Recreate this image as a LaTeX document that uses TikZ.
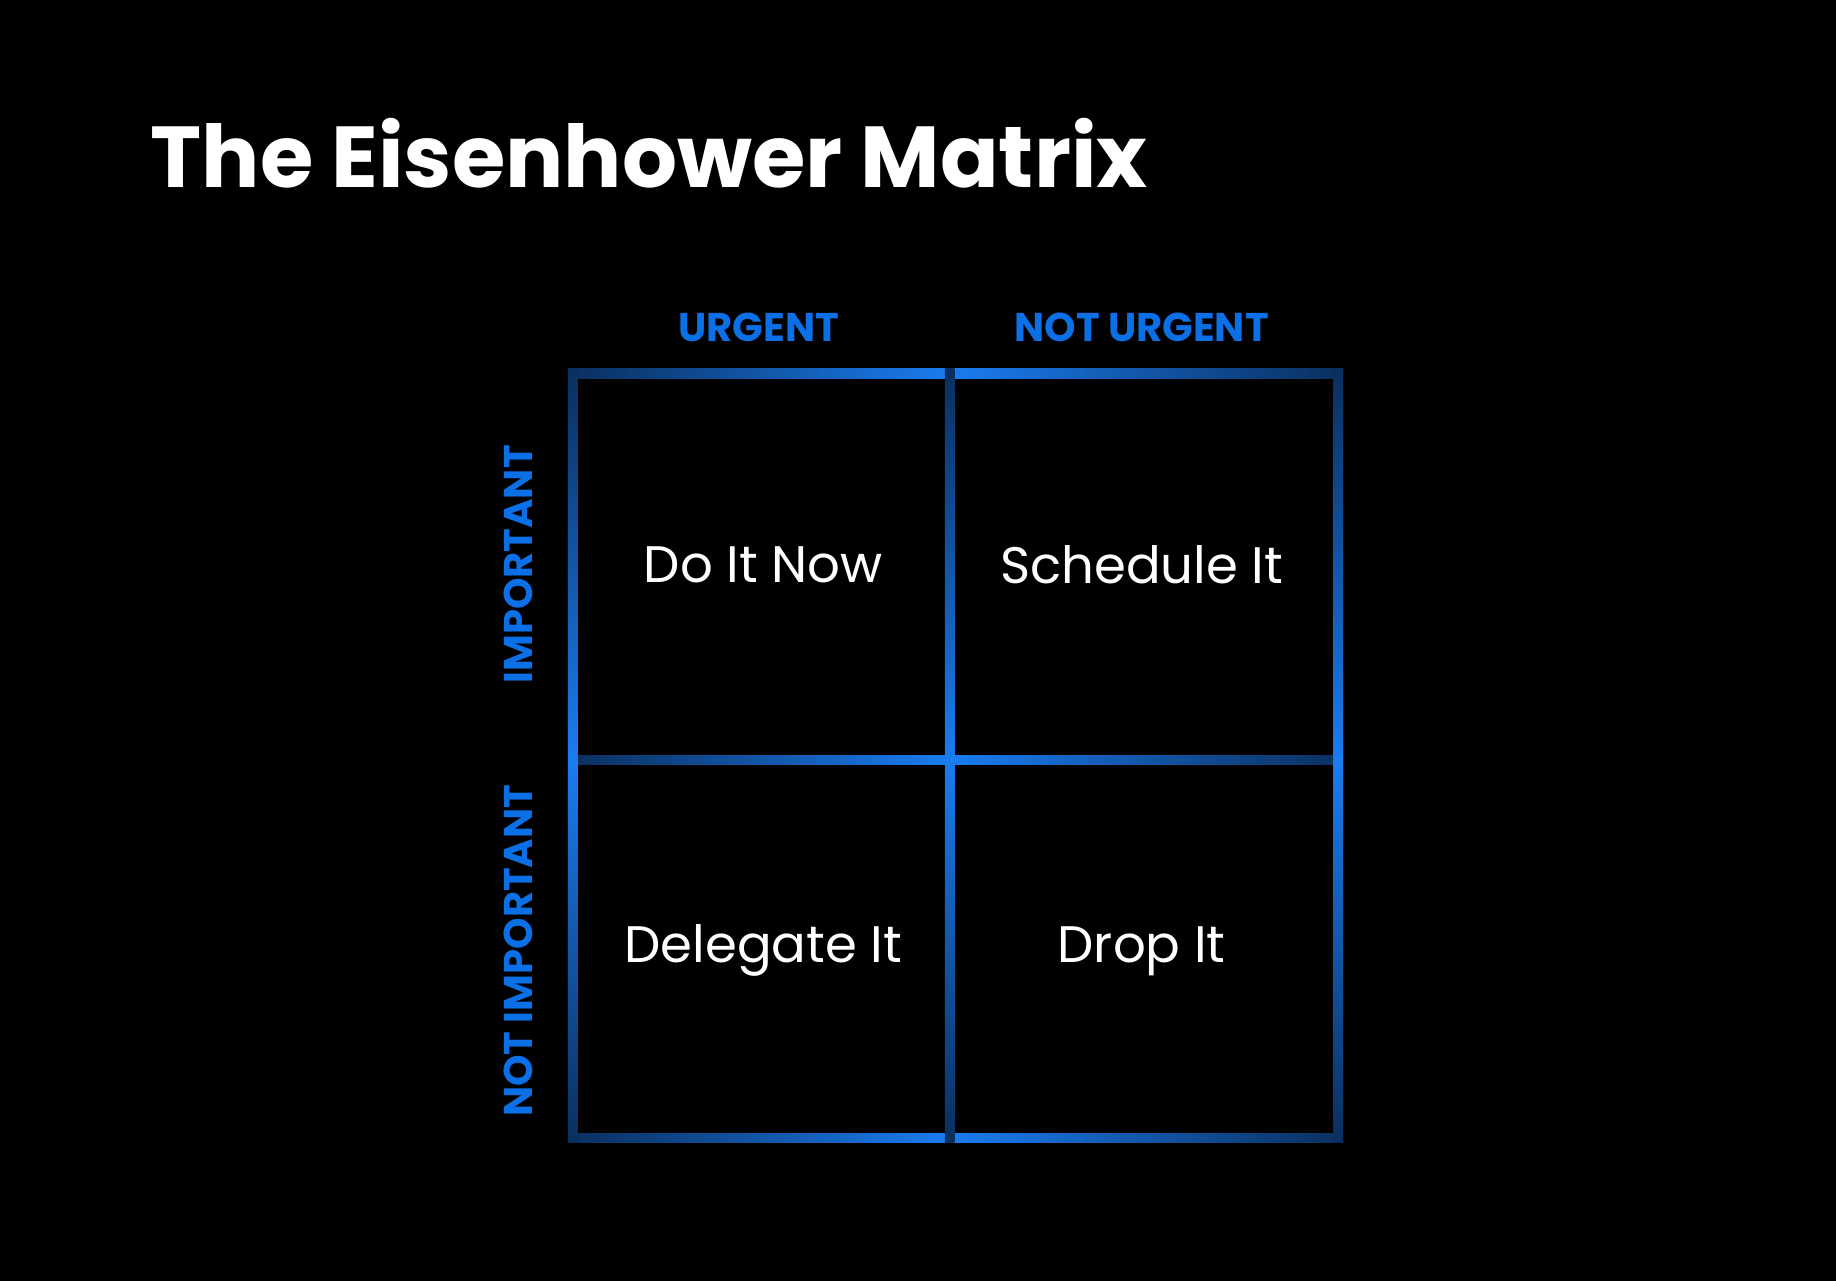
\documentclass[tikz,border=0pt]{standalone}
\usepackage{fontspec}
\setmainfont{Poppins}
\usetikzlibrary{positioning}
\definecolor{MBlue}{HTML}{0B6FE6}
\definecolor{MDark}{HTML}{0A2F5E}
\definecolor{MGlow}{HTML}{1A7CF0}
\tikzset{
    cell/.style = {text=white, font=\fontsize{14.6}{16}\selectfont},
    axis/.style = {text=MBlue, font=\fontsize{11.4}{13}\selectfont\bfseries},
    hbar/.style = {left color=MDark, right color=MGlow},
    hbarr/.style = {left color=MGlow, right color=MDark},
    vbar/.style = {top color=MDark, bottom color=MGlow},
    vbarr/.style = {top color=MGlow, bottom color=MDark}
}
\begin{document}
\begin{tikzpicture}[x=0.01171cm, y=-0.01171cm]
    \fill[black] (0,0) rectangle (1568,1094);
    \useasboundingbox (0,0) rectangle (1568,1094);
    \node[anchor=base west, text=white, font=\fontsize{24.6}{27}\selectfont\bfseries, inner sep=0pt] (title) at (128,160) {The Eisenhower Matrix};
    % grid bars, brightest at the middle
    \foreach \yy in {319,649,972}{
        \shade[hbar] (485,\yy-4) rectangle (811,\yy+4);
        \shade[hbarr] (811,\yy-4) rectangle (1147,\yy+4);
    }
    \foreach \xx in {489,811,1143}{
        \shade[vbar] (\xx-4,315) rectangle (\xx+4,649);
        \shade[vbarr] (\xx-4,649) rectangle (\xx+4,976);
    }
    % labels
    \node[axis] (urg) at (648,280) {URGENT};
    \node[axis] (nurg) at (975,280) {NOT URGENT};
    \node[axis, rotate=90] (imp) at (443,482) {IMPORTANT};
    \node[axis, rotate=90] (nimp) at (443,812) {NOT IMPORTANT};
    \node[cell] (doit) at (652,482) {Do It Now};
    \node[cell] (sched) at (975,482) {Schedule It};
    \node[cell] (deleg) at (652,812) {Delegate It};
    \node[cell] (drop) at (975,812) {Drop It};
\end{tikzpicture}
\end{document}
